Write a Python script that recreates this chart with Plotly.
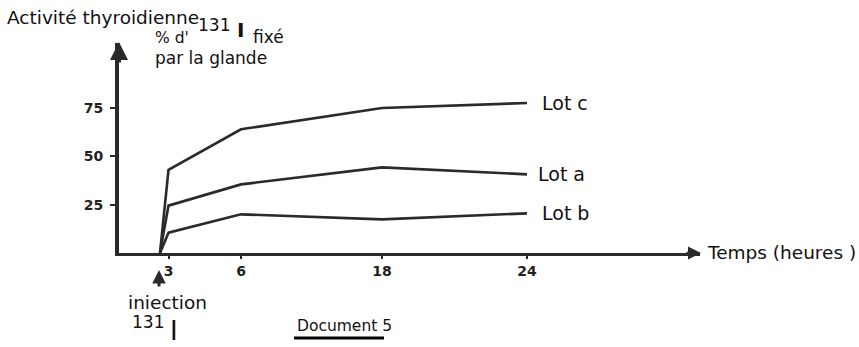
import numpy as np
import plotly.graph_objects as go

# ---------------- data ----------------
hours = [0, 3, 6, 18, 24]            # 0 = injection of iodine 131
lot_a = [0, 24.5, 35.5, 44.3, 40.7]
lot_b = [0, 10.5, 20.0, 17.4, 20.5]
lot_c = [0, 43.0, 64.0, 75.0, 77.6]
lot_names = ["Lot a", "Lot b", "Lot c"]
x_tick_hours = [3, 6, 18, 24]
x_tick_labels = ["3", "6", "18", "24"]
y_tick_vals = [25, 50, 75]
y_tick_labels = ["25", "50", "75"]

# ---------------- schematic (hand-drawn) time axis ----------------
# the original document uses a non-uniform time scale; knots of that scale
AXIS_KNOT_HOURS = [0, 3, 6, 18, 24]
AXIS_KNOT_POS = [41, 49.5, 122, 263, 408]


def warp(h):
    return np.interp(h, AXIS_KNOT_HOURS, AXIS_KNOT_POS)


W, H = 859, 347
L, R, T, B = 119, 700, 43, 253   # plot-area pixel box


def px(x):
    return (x - L) / (R - L)


def py(y):
    return (B - y) / (B - T)


FONT = "DejaVu Sans"
INK = "#2a2a2a"

fig = go.Figure()
for name, vals in zip(lot_names, [lot_a, lot_b, lot_c]):
    fig.add_trace(go.Scatter(
        x=warp(hours), y=vals, mode="lines", name=name,
        line=dict(color=INK, width=2.6), showlegend=False,
        hoverinfo="skip"))

ann = []


def text(s, x, y, size=17, anchor="left", bold=False, yanchor="middle"):
    ann.append(dict(text=("<b>%s</b>" % s) if bold else s,
                    xref="paper", yref="paper", x=px(x), y=py(y),
                    xanchor=anchor, yanchor=yanchor, showarrow=False,
                    borderpad=0,
                    font=dict(family=FONT, size=size, color="#111")))


text("Activité thyroidienne", 6, 17, 18.5)
text("% d'", 154, 38, 15.5)
text("131", 197, 25, 17)
text("I", 236, 30, 20, bold=True)
text("fixé", 252, 37, 17)
text("par la glande", 154, 58, 17)
text("Temps (heures )", 706, 252, 18.5)
text("iniection", 127, 302, 18.5)
text("131", 131, 322, 17)
text("I", 169, 347, 26, yanchor="bottom")
text("Document 5", 296, 326, 15.5)

# lot labels attached to the end of each curve
for name, vals, dx in zip(lot_names, [lot_a, lot_b, lot_c], [9, 13, 13]):
    ann.append(dict(text=name, xref="x", yref="y", x=warp(hours[-1]), y=vals[-1],
                    xanchor="left", yanchor="middle", xshift=dx, showarrow=False,
                    font=dict(family=FONT, size=19, color="#111")))

# axis arrowheads and injection arrow
ann.append(dict(text="", xref="paper", yref="paper", x=px(119), y=py(42),
                ax=0, ay=22, showarrow=True, arrowhead=2, arrowwidth=4,
                arrowsize=0.9, arrowcolor=INK, standoff=0))
ann.append(dict(text="", xref="paper", yref="paper", x=px(701), y=py(253),
                ax=-16, ay=0, showarrow=True, arrowhead=2, arrowwidth=2.6,
                arrowsize=1.0, arrowcolor=INK, standoff=0))
ann.append(dict(text="", xref="paper", yref="paper", x=px(159), y=py(270),
                ax=0, ay=18, showarrow=True, arrowhead=2, arrowwidth=3,
                arrowsize=0.9, arrowcolor=INK, standoff=0))

shapes = [dict(type="line", xref="paper", yref="paper",
               x0=px(294), x1=px(384), y0=py(338), y1=py(338),
               line=dict(color="#000", width=3))]

fig.update_layout(
    width=W, height=H, autosize=False,
    margin=dict(l=L, r=W - R, t=T, b=H - B, pad=0),
    paper_bgcolor="white", plot_bgcolor="white",
    annotations=ann, shapes=shapes,
    xaxis=dict(range=[0, R - L], showgrid=False, zeroline=False,
               showline=True, linecolor=INK, linewidth=3,
               tickvals=list(warp(x_tick_hours)),
               ticktext=["<b>%s</b>" % t for t in x_tick_labels],
               ticks="outside", ticklen=3, tickwidth=2, tickcolor=INK,
               tickfont=dict(family=FONT, size=14, color="#222"),
               fixedrange=True),
    yaxis=dict(range=[0, (B - T) / 1.933], showgrid=False, zeroline=False,
               showline=True, linecolor=INK, linewidth=4,
               tickvals=y_tick_vals,
               ticktext=["<b>%s</b>" % t for t in y_tick_labels],
               ticks="outside", ticklen=5, tickwidth=2, tickcolor=INK,
               ticklabelstandoff=4,
               tickfont=dict(family=FONT, size=14, color="#222"),
               fixedrange=True),
)

fig.write_html("out.html", config={"displayModeBar": False},
               post_script="document.body.style.margin='0px';document.body.style.overflow='hidden';")
